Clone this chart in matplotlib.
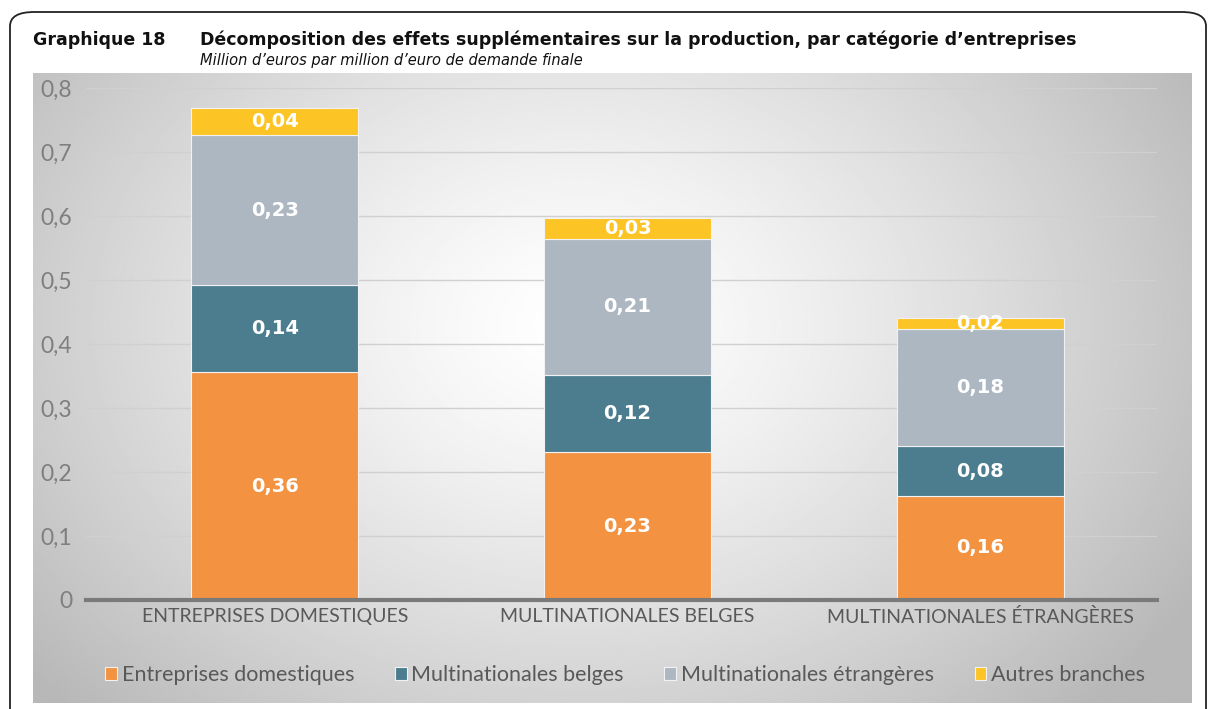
import numpy as np
import matplotlib.pyplot as plt
from matplotlib.patches import FancyBboxPatch

# data
categories = ["ENTREPRISES DOMESTIQUES", "MULTINATIONALES BELGES", "MULTINATIONALES ÉTRANGÈRES"]
series_names = ["Entreprises domestiques", "Multinationales belges",
                "Multinationales étrangères", "Autres branches"]
domestiques = [0.356, 0.231, 0.163]
belges = [0.136, 0.121, 0.077]
etrangeres = [0.234, 0.212, 0.184]
autres = [0.043, 0.033, 0.016]
yticks = [0, 0.1, 0.2, 0.3, 0.4, 0.5, 0.6, 0.7, 0.8]

colors = ["#F39240", "#4B7D8F", "#ADB7C2", "#FCC425"]
W, H = 1209, 709

fig = plt.figure(figsize=(W / 100, H / 100), dpi=100)
fig.patch.set_facecolor("white")

# outer rounded frame
frame = FancyBboxPatch((10 / W, -30 / H), 1196 / W, (H - 12 + 30) / H,
                       boxstyle="round,pad=0,rounding_size=0.02",
                       transform=fig.transFigure, fill=False,
                       edgecolor="#222222", linewidth=1.3, zorder=0)
fig.patches.append(frame)

# gradient panel behind the chart
bg = fig.add_axes([33 / W, 6 / H, (1192 - 33) / W, (703 - 73) / H], zorder=0)
yy, xx = np.mgrid[0:1:300j, 0:1:600j]
d = np.sqrt(((xx - 0.47) / 0.72) ** 2 + ((yy - 0.4) / 1.0) ** 2)
g = np.clip(1.0 - 0.34 * d ** 1.3, 0.72, 1.0)
bg.imshow(g, cmap="gray", vmin=0, vmax=1, aspect="auto", extent=[0, 1, 0, 1], origin="upper")
bg.set_axis_off()

ax = fig.add_axes([86 / W, (H - 600) / H, (1157 - 86) / W, 512 / H], zorder=1)
ax.patch.set_alpha(0)

x = np.arange(len(categories))
stacks = [domestiques, belges, etrangeres, autres]
bottom = np.zeros(len(categories))
for vals, col, name in zip(stacks, colors, series_names):
    vals = np.array(vals)
    ax.bar(x, vals, 0.473, bottom=bottom, color=col, edgecolor="#F2F2F2",
           linewidth=0.8, label=name, zorder=3)
    for xi, b, v in zip(x, bottom, vals):
        ax.text(xi, b + v / 2, f"{v:.2f}".replace(".", ","), ha="center", va="center",
                color="white", fontsize=14, fontweight="bold", zorder=4)
    bottom += vals

ax.set_xlim(-0.535, 2.501)
ax.set_ylim(0, 0.8)
ax.set_yticks(yticks)
ax.set_yticklabels([f"{t:g}".replace(".", ",") for t in yticks], color="#7F7F7F",
                   fontsize=16.5, fontfamily="Lato")
ax.set_xticks(x)
ax.set_xticklabels(categories, color="#595959", fontsize=14, fontfamily="Lato")
ax.tick_params(length=0)
ax.tick_params(axis="y", pad=10)
ax.tick_params(axis="x", pad=6)
ax.grid(axis="y", color="#D0D0D0", linewidth=1, zorder=1)
for s in ["top", "right", "left"]:
    ax.spines[s].set_visible(False)
ax.spines["bottom"].set_color("#7A7A7A")
ax.spines["bottom"].set_linewidth(3)
ax.spines["bottom"].set_zorder(5)

leg = fig.legend(*ax.get_legend_handles_labels(), loc="center", bbox_to_anchor=(625 / W, (H - 675) / H),
                 ncol=4, frameon=False, handlelength=0.55, handleheight=0.55,
                 handletextpad=0.2, columnspacing=1.9,
                 prop={"family": "Lato", "size": 15.5})
for t in leg.get_texts():
    t.set_color("#595959")

fig.text(33 / W, (H - 45) / H, "Graphique 18", fontsize=12.5, fontweight="bold",
         color="#111111", va="baseline")
fig.text(200 / W, (H - 45) / H,
         "Décomposition des effets supplémentaires sur la production, par catégorie d’entreprises",
         fontsize=12.5, fontweight="bold", color="#111111", va="baseline")
fig.text(200 / W, (H - 65) / H, "Million d’euros par million d’euro de demande finale",
         fontsize=10.5, fontstyle="italic", color="#111111", va="baseline")

fig.savefig("out.png", dpi=100)
